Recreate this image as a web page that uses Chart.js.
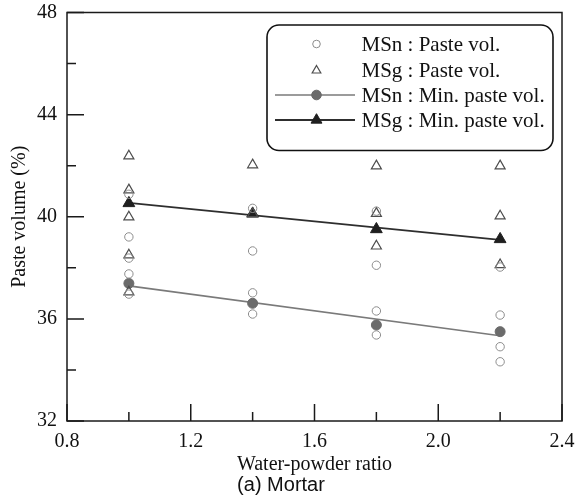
<!DOCTYPE html>
<html>
<head>
<meta charset="utf-8">
<script src="https://cdn.jsdelivr.net/npm/chart.js@4.4.1/dist/chart.umd.min.js"></script>
<style>
  html, body { margin: 0; padding: 0; background: #ffffff; }
  #wrap { width: 575px; height: 501px; }
</style>
</head>
<body>
<div id="wrap"><canvas id="c" width="575" height="501"></canvas></div>
<script>
// Water-powder ratios tested
const ratios = [1.0, 1.4, 1.8, 2.2];

// Paste volume (%) of each mix, grouped by ratio (same order as ratios)
const msnPaste = [
  [40.88, 39.21, 38.38, 37.76, 36.97],
  [40.33, 38.66, 37.02, 36.19],
  [40.22, 38.10, 36.31, 35.37],
  [38.03, 36.15, 34.91, 34.32]
];
const msgPaste = [
  [42.38, 41.05, 39.99, 38.50, 37.05],
  [42.03, 40.12],
  [41.99, 40.13, 38.85],
  [41.99, 40.03, 38.12]
];

// Minimum paste volume (%) at each ratio
const msnMinPaste = [37.39, 36.61, 35.76, 35.50];
const msgMinPaste = [40.53, 40.12, 39.51, 39.12];

// Axis ticks
const xTicks = [0.8, 1.2, 1.6, 2.0, 2.4];
const yTicks = [32, 36, 40, 44, 48];

const seriesLabels = [
  'MSn : Paste vol.',
  'MSg : Paste vol.',
  'MSn : Min. paste vol.',
  'MSg : Min. paste vol.'
];

function toPoints(groups) {
  const pts = [];
  groups.forEach((vals, i) => vals.forEach(v => pts.push({ x: ratios[i], y: v })));
  return pts;
}

// Least-squares trend line across the ratio range
function trendLine(xs, ys) {
  const n = xs.length;
  const mx = xs.reduce((a, b) => a + b, 0) / n;
  const my = ys.reduce((a, b) => a + b, 0) / n;
  let sxy = 0, sxx = 0;
  for (let i = 0; i < n; i++) {
    sxy += (xs[i] - mx) * (ys[i] - my);
    sxx += (xs[i] - mx) * (xs[i] - mx);
  }
  const b = sxy / sxx, a = my - b * mx;
  return [xs[0], xs[n - 1]].map(x => ({ x: x, y: a + b * x }));
}

const serif = "'Liberation Serif', 'Times New Roman', serif";

const styles = {
  msnOpen:  { pointStyle: 'circle',   pointRadius: 4.2, borderColor: '#8c8c8c', backgroundColor: 'rgba(0,0,0,0)', borderWidth: 1 },
  msgOpen:  { pointStyle: 'triangle', pointRadius: 5.8, borderColor: '#4d4d4d', backgroundColor: 'rgba(0,0,0,0)', borderWidth: 1.2 },
  msnMin:   { pointStyle: 'circle',   pointRadius: 5,   borderColor: '#6b6b6b', backgroundColor: '#6b6b6b', borderWidth: 1, lineColor: '#7a7a7a', lineWidth: 1.6 },
  msgMin:   { pointStyle: 'triangle', pointRadius: 6.8, borderColor: '#1f1f1f', backgroundColor: '#1f1f1f', borderWidth: 1, lineColor: '#2e2e2e', lineWidth: 1.8 }
};

function markerSet(label, data, st) {
  return {
    label: label, data: data, showLine: false, order: 0,
    pointStyle: st.pointStyle, pointRadius: st.pointRadius, pointHoverRadius: st.pointRadius,
    pointBorderColor: st.borderColor, pointBackgroundColor: st.backgroundColor,
    pointBorderWidth: st.borderWidth
  };
}
function lineSet(data, st) {
  return {
    label: '', data: data, showLine: true, order: 5, pointRadius: 0,
    borderColor: st.lineColor, borderWidth: st.lineWidth, fill: false
  };
}

const datasets = [
  markerSet(seriesLabels[0], toPoints(msnPaste), styles.msnOpen),
  markerSet(seriesLabels[1], toPoints(msgPaste), styles.msgOpen),
  markerSet(seriesLabels[2], ratios.map((x, i) => ({ x: x, y: msnMinPaste[i] })), styles.msnMin),
  markerSet(seriesLabels[3], ratios.map((x, i) => ({ x: x, y: msgMinPaste[i] })), styles.msgMin),
  lineSet(trendLine(ratios, msnMinPaste), styles.msnMin),
  lineSet(trendLine(ratios, msgMinPaste), styles.msgMin)
];

// Boxed frame with inward major and minor ticks
const framePlugin = {
  id: 'frameTicks',
  afterDatasetsDraw(chart) {
    const { ctx, chartArea: a, scales } = chart;
    ctx.save();
    ctx.strokeStyle = '#1a1a1a';
    ctx.lineWidth = 1.5;
    ctx.strokeRect(a.left, a.top, a.right - a.left, a.bottom - a.top);
    const major = 17, minor = 9;
    ctx.lineWidth = 1.5;
    ctx.beginPath();
    xTicks.forEach((t, i) => {
      const px = scales.x.getPixelForValue(t);
      ctx.moveTo(px, a.bottom); ctx.lineTo(px, a.bottom - major);
      if (i < xTicks.length - 1) {
        const mx = scales.x.getPixelForValue((t + xTicks[i + 1]) / 2);
        ctx.moveTo(mx, a.bottom); ctx.lineTo(mx, a.bottom - minor);
      }
    });
    yTicks.forEach((t, i) => {
      const py = scales.y.getPixelForValue(t);
      ctx.moveTo(a.left, py); ctx.lineTo(a.left + major, py);
      if (i < yTicks.length - 1) {
        const my = scales.y.getPixelForValue((t + yTicks[i + 1]) / 2);
        ctx.moveTo(a.left, my); ctx.lineTo(a.left + minor, my);
      }
    });
    ctx.stroke();
    ctx.restore();
  }
};

// Rounded legend box in the upper right of the plot
const legendPlugin = {
  id: 'boxLegend',
  afterDraw(chart) {
    const { ctx, chartArea: a } = chart;
    const box = { left: a.right - 295, top: a.top + 12.5, right: a.right - 9, bottom: a.top + 138 };
    ctx.save();
    ctx.beginPath();
    ctx.roundRect(box.left, box.top, box.right - box.left, box.bottom - box.top, 12);
    ctx.fillStyle = '#ffffff';
    ctx.fill();
    ctx.lineWidth = 1.6;
    ctx.strokeStyle = '#111111';
    ctx.stroke();

    const rows = [box.top + 19, box.top + 45.5, box.top + 70, box.top + 95];
    const markerX = box.left + 49.5;
    const textX = box.left + 94.5;
    const entries = [
      { st: styles.msnOpen, line: false, r: 3.8 },
      { st: styles.msgOpen, line: false, r: 5 },
      { st: styles.msnMin, line: true, r: 4.8 },
      { st: styles.msgMin, line: true, r: 6.3 }
    ];
    entries.forEach((e, i) => {
      const y = rows[i];
      if (e.line) {
        ctx.beginPath();
        ctx.strokeStyle = e.st.lineColor;
        ctx.lineWidth = e.st.lineWidth;
        ctx.moveTo(box.left + 8, y);
        ctx.lineTo(box.left + 88, y);
        ctx.stroke();
      }
      ctx.strokeStyle = e.st.borderColor;
      ctx.fillStyle = e.st.backgroundColor;
      ctx.lineWidth = e.st.borderWidth;
      Chart.helpers.drawPoint(ctx, { pointStyle: e.st.pointStyle, radius: e.r, borderWidth: e.st.borderWidth, rotation: 0 }, markerX, y);
      ctx.fillStyle = '#111111';
      ctx.font = '21px ' + serif;
      ctx.textBaseline = 'middle';
      ctx.textAlign = 'left';
      ctx.fillText(seriesLabels[i], textX, y + 1);
    });
    ctx.restore();
  }
};

// Keep the plot box at fixed insets regardless of label overhang
function clearScalePadding(s) {
  s.paddingTop = 0; s.paddingBottom = 0; s.paddingLeft = 0; s.paddingRight = 0;
}

new Chart(document.getElementById('c'), {
  type: 'scatter',
  data: { datasets: datasets },
  plugins: [framePlugin, legendPlugin],
  options: {
    responsive: false,
    devicePixelRatio: 1,
    animation: false,
    layout: { padding: { top: 12.5, right: 13, left: 0, bottom: 0 } },
    plugins: {
      legend: { display: false },
      tooltip: { enabled: false },
      title: {
        display: true,
        position: 'bottom',
        text: '(a) Mortar',
        color: '#111111',
        font: { family: "'Liberation Sans', Arial, sans-serif", size: 20, weight: 'normal', lineHeight: 1.2 },
        padding: { top: -2, bottom: 4 }
      }
    },
    scales: {
      x: {
        type: 'linear',
        min: 0.8, max: 2.4,
        afterBuildTicks: s => { s.ticks = xTicks.map(v => ({ value: v })); },
        afterFit: s => { s.height = 54; clearScalePadding(s); },
        ticks: {
          autoSkip: false, maxRotation: 0,
          padding: 9,
          color: '#111111',
          font: { family: serif, size: 20 },
          callback: v => Number(v).toFixed(1)
        },
        grid: { display: false, drawTicks: false },
        border: { display: false },
        title: {
          display: true, text: 'Water-powder ratio', color: '#111111',
          font: { family: serif, size: 20 }, padding: { top: -2, bottom: -2 }
        }
      },
      y: {
        type: 'linear',
        min: 32, max: 48,
        afterBuildTicks: s => { s.ticks = yTicks.map(v => ({ value: v })); },
        afterFit: s => { s.width = 67; clearScalePadding(s); },
        ticks: {
          autoSkip: false,
          padding: 10,
          color: '#111111',
          font: { family: serif, size: 20 },
          callback: v => String(v)
        },
        grid: { display: false, drawTicks: false },
        border: { display: false },
        title: {
          display: true, text: 'Paste volume (%)', color: '#111111',
          font: { family: serif, size: 20 }, padding: { top: 8, bottom: 0 }
        }
      }
    }
  }
});
</script>
</body>
</html>
